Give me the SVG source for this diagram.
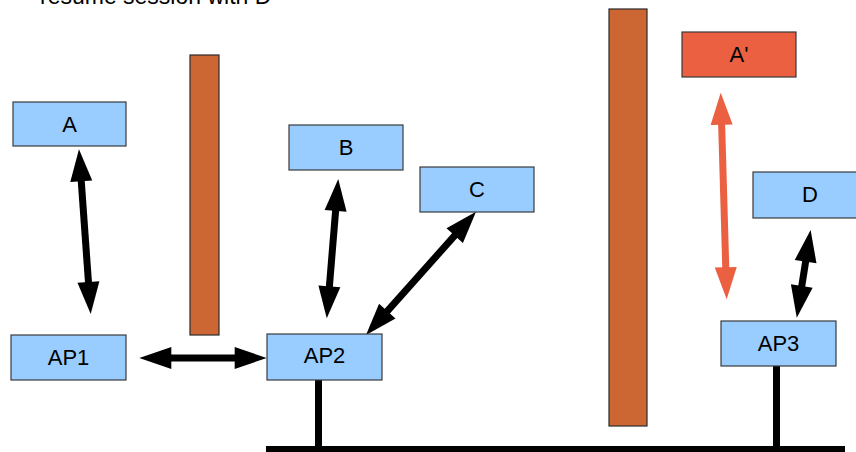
<svg xmlns="http://www.w3.org/2000/svg" width="856" height="452" viewBox="0 0 856 452">
<style>
.box{fill:#99ccff;stroke:#3a3a3a;stroke-width:1.2}
.boxr{fill:#ea6040;stroke:#3a3a3a;stroke-width:1.2}
.wall{fill:#cc6633;stroke:#2a2a2a;stroke-width:1.2}
.lbl{font-family:"Liberation Sans",Arial,sans-serif;font-size:22px;fill:#000;text-anchor:middle}
.arr{stroke:#000;stroke-width:7;fill:none}
.arrr{stroke:#ea6040;stroke-width:7;fill:none}
.wire{fill:#000}
</style>
<defs>
<marker id="hb" markerUnits="userSpaceOnUse" markerWidth="32" markerHeight="22" refX="12" refY="11" orient="auto-start-reverse" overflow="visible">
<path d="M0,0 L32,11 L0,22 z" fill="#000"/>
</marker>
<marker id="hr" markerUnits="userSpaceOnUse" markerWidth="32" markerHeight="22" refX="12" refY="11" orient="auto-start-reverse" overflow="visible">
<path d="M0,0 L32,11 L0,22 z" fill="#ea6040"/>
</marker>
</defs>
<text x="40" y="4" font-family="Liberation Sans, Arial, sans-serif" font-size="23" fill="#000">resume session with D</text>
<g id="walls">
<rect class="wall" x="190" y="55" width="29" height="280"/>
<rect class="wall" x="609" y="9" width="38" height="417"/>
</g>
<g id="wires">
<rect class="wire" x="266" y="446" width="579" height="6"/>
<rect class="wire" x="315" y="380" width="7" height="67"/>
<rect class="wire" x="773" y="366" width="7" height="81"/>
</g>
<g id="connectors">
<path class="arr" d="M80.4,169.3 L89.3,294" marker-start="url(#hb)" marker-end="url(#hb)"/>
<path class="arr" d="M159.3,358 L246.7,358" marker-start="url(#hb)" marker-end="url(#hb)"/>
<path class="arr" d="M336.6,198.9 L328.4,298.4" marker-start="url(#hb)" marker-end="url(#hb)"/>
<path class="arr" d="M462.7,226.6 L379.3,320.1" marker-start="url(#hb)" marker-end="url(#hb)"/>
<path class="arrr" d="M721.3,112.7 L726.1,279.3" marker-start="url(#hr)" marker-end="url(#hr)"/>
<path class="arr" d="M807.5,249.8 L799.9,297.9" marker-start="url(#hb)" marker-end="url(#hb)"/>
</g>
<g id="A"><rect class="box" x="13" y="102" width="113" height="44"/><text class="lbl" x="69.5" y="132">A</text></g>
<g id="AP1"><rect class="box" x="11" y="335" width="115" height="45"/><text class="lbl" x="68.5" y="365">AP1</text></g>
<g id="B"><rect class="box" x="289" y="125" width="114" height="45"/><text class="lbl" x="346" y="155">B</text></g>
<g id="C"><rect class="box" x="420" y="167" width="114" height="45"/><text class="lbl" x="477" y="197">C</text></g>
<g id="AP2"><rect class="box" x="267" y="334" width="115" height="46"/><text class="lbl" x="324.5" y="363">AP2</text></g>
<g id="Aprime"><rect class="boxr" x="682" y="32" width="114" height="45"/><text class="lbl" x="739" y="62">A'</text></g>
<g id="D"><rect class="box" x="753" y="172" width="114" height="46"/><text class="lbl" x="810" y="202">D</text></g>
<g id="AP3"><rect class="box" x="721" y="321" width="115" height="45"/><text class="lbl" x="778.5" y="351">AP3</text></g>
</svg>
